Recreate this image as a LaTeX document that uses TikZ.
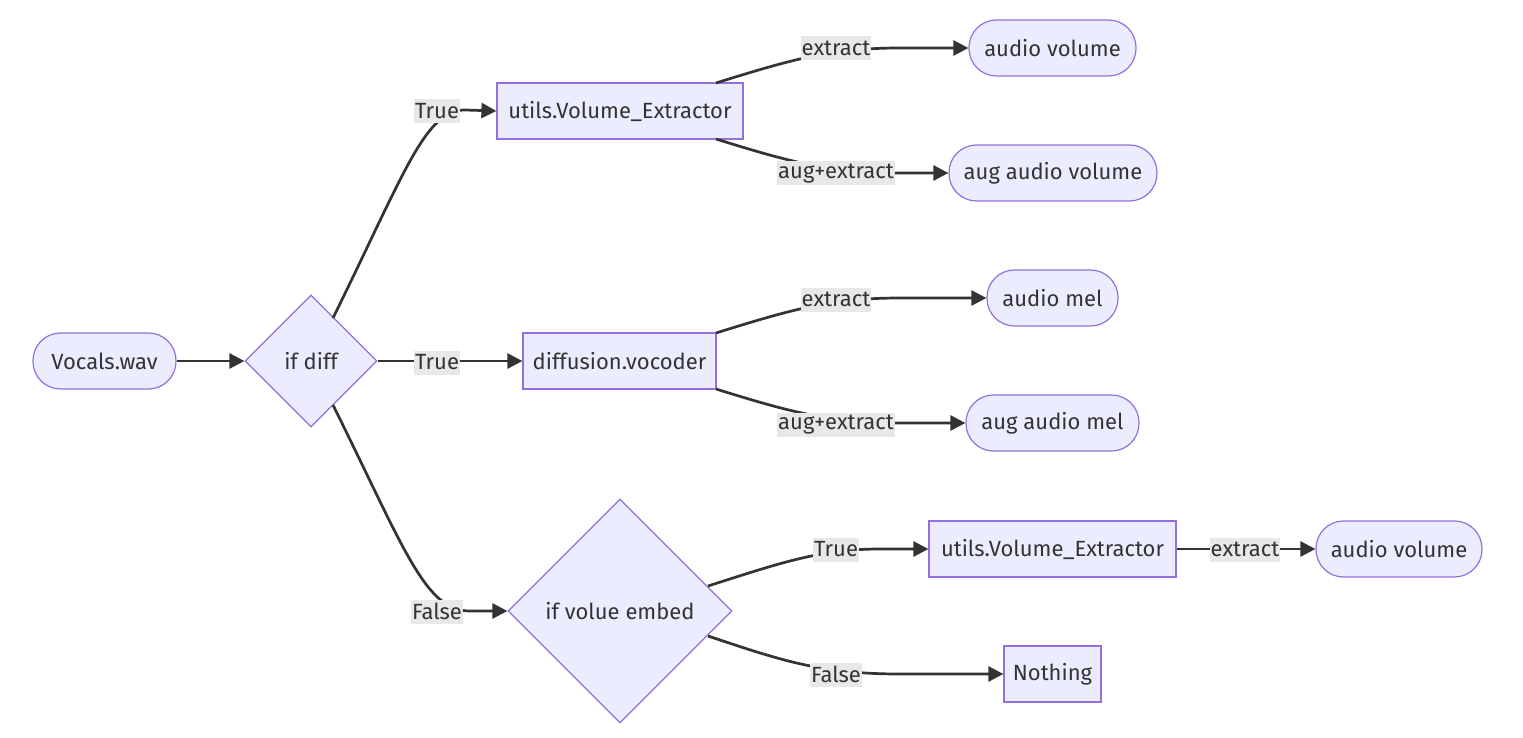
\documentclass[tikz,border=0pt]{standalone}
\usepackage{fontspec}
\setmainfont{Fira Sans}
\usetikzlibrary{arrows.meta,shapes.geometric}
\definecolor{nodefill}{HTML}{ECECFF}
\definecolor{nodeline}{HTML}{9370DB}
\definecolor{edgecol}{HTML}{333333}
\definecolor{lblbg}{HTML}{E8E8E8}
\begin{document}
\begin{tikzpicture}[x=1pt,y=-1pt,
  every node/.style={font=\fontsize{22}{24}\selectfont, text=edgecol},
  boxnode/.style={draw=nodeline, fill=nodefill, line width=1.2pt, minimum height=56pt, inner sep=0pt, anchor=center},
  stadium/.style={boxnode, rounded corners=27.5pt},
  decision/.style={diamond, draw=nodeline, fill=nodefill, line width=1.2pt, inner sep=0pt, aspect=1},
  edge/.style={draw=edgecol, line width=2.7pt, -{Triangle[length=15pt,width=15pt]}},
  lbl/.style={fill=lblbg, inner xsep=1pt, inner ysep=0pt, minimum height=24pt, yshift=-1.5pt}
]
\useasboundingbox (0,0) rectangle (1523,738);
% nodes
\node[stadium, minimum width=143pt] (voc) at (104.5,361) {Vocals.wav};
\node[decision, minimum width=132pt, minimum height=132pt] (ifd) at (311,361) {if diff};
\node[boxnode, minimum width=246pt] (ve1) at (620,111) {utils.Volume\_Extractor};
\node[boxnode, minimum width=193pt] (voco) at (619.5,361) {diffusion.vocoder};
\node[decision, minimum width=224pt, minimum height=224pt] (ifv) at (620,611) {if volue embed};
\node[stadium, minimum width=167pt] (av1) at (1052.5,48) {audio volume};
\node[stadium, minimum width=208pt] (aav) at (1053,173) {aug audio volume};
\node[stadium, minimum width=131pt] (am) at (1052.5,298) {audio mel};
\node[stadium, minimum width=173pt] (aam) at (1052.5,423) {aug audio mel};
\node[boxnode, minimum width=247pt] (ve2) at (1052.5,549) {utils.Volume\_Extractor};
\node[stadium, minimum width=166pt] (av2) at (1399,549) {audio volume};
\node[boxnode, minimum width=97pt] (noth) at (1052.5,674) {Nothing};
% coordinates for edge starts
\coordinate (ve1a) at (716,83);
\coordinate (ve1b) at (716,139);
\coordinate (vocoa) at (716,333);
\coordinate (vocob) at (716,389);
\coordinate (ifva) at (708,586);
\coordinate (ifvb) at (708,636);
\coordinate (ifdt) at (333,318);
\coordinate (ifdb) at (333,405);
% edges
\draw[edge] (voc.east) -- (ifd.west);
\draw[edge] (ifdt) .. controls (405,172) and (425,110) .. (465,110) -- (ve1.west);
\draw[edge] (ifd.east) -- (voco.west);
\draw[edge] (ifdb) .. controls (405,550) and (425,611) .. (470,611) -- (ifv.west);
\draw[edge] (ve1a) .. controls (790,60) and (830,48) .. (900,48) -- (av1.west);
\draw[edge] (ve1b) .. controls (790,162) and (830,173) .. (900,173) -- (aav.west);
\draw[edge] (vocoa) .. controls (790,310) and (830,298) .. (900,298) -- (am.west);
\draw[edge] (vocob) .. controls (790,412) and (830,423) .. (900,423) -- (aam.west);
\draw[edge] (ifva) .. controls (780,563) and (820,549) .. (880,549) -- (ve2.west);
\draw[edge] (ifvb) .. controls (780,660) and (820,674) .. (900,674) -- (noth.west);
\draw[edge] (ve2.east) -- (av2.west);
% labels
\node[lbl] (l1) at (437,110) {True};
\node[lbl] (l2) at (437,361) {True};
\node[lbl] (l3) at (437,610) {False};
\node[lbl] (l4) at (836,47) {extract};
\node[lbl] (l5) at (836,172) {aug+extract};
\node[lbl] (l6) at (836,298) {extract};
\node[lbl] (l7) at (836,423) {aug+extract};
\node[lbl] (l8) at (836,548) {True};
\node[lbl] (l9) at (836,673) {False};
\node[lbl] (l10) at (1245,548) {extract};
\end{tikzpicture}
\end{document}
